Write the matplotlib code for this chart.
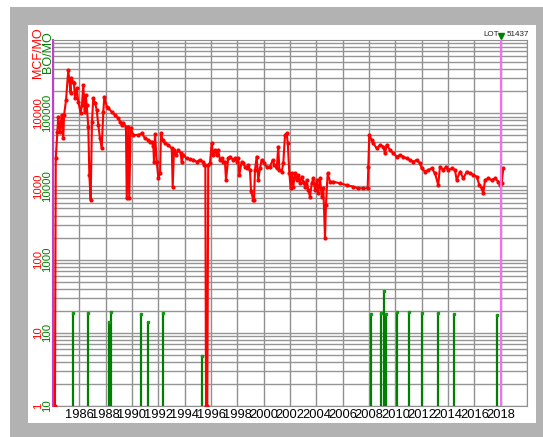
import matplotlib
matplotlib.use("Agg")
import matplotlib.pyplot as plt
from matplotlib.patches import Rectangle
from matplotlib.ticker import NullFormatter, NullLocator

plt.rcParams['font.family'] = ['Liberation Sans', 'DejaVu Sans']

# gas production, MCF per month (red scale)
gas_years = [1984.15, 1984.21, 1984.33, 1984.40, 1984.53, 1984.66, 1984.78, 1984.84, 1984.99,
             1985.16, 1985.24, 1985.34, 1985.37, 1985.50, 1985.59, 1985.67, 1985.80, 1985.92,
             1986.10, 1986.20, 1986.30, 1986.41, 1986.48, 1986.56, 1986.68, 1986.76, 1986.86,
             1986.96, 1987.06, 1987.19, 1987.32, 1987.44, 1987.57, 1987.70, 1987.82, 1987.90,
             1988.08, 1988.20, 1988.46, 1988.71, 1988.96, 1989.09, 1989.22, 1989.34, 1989.54,
             1989.60, 1989.72, 1989.79, 1989.90, 1990.10, 1990.48, 1990.74, 1990.99, 1991.24,
             1991.37, 1991.50, 1991.62, 1991.67, 1991.75, 1991.88, 1992.00, 1992.13, 1992.20,
             1992.33, 1992.51, 1992.76, 1993.02, 1993.09, 1993.19, 1993.34, 1993.52, 1993.70,
             1993.77, 1993.90, 1994.15, 1994.40, 1994.66, 1994.91, 1995.16, 1995.37, 1995.49,
             1995.57, 1995.62, 1995.72, 1995.79, 1995.92, 1996.05, 1996.17, 1996.30, 1996.43,
             1996.55, 1996.68, 1996.81, 1996.93, 1997.06, 1997.14, 1997.31, 1997.44, 1997.69,
             1997.82, 1997.95, 1998.07, 1998.15, 1998.33, 1998.45, 1998.58, 1998.71, 1998.83,
             1998.96, 1999.04, 1999.21, 1999.27, 1999.34, 1999.47, 1999.59, 1999.72, 1999.85,
             2000.03, 2000.23, 2000.48, 2000.69, 2000.81, 2000.99, 2001.11, 2001.19, 2001.37,
             2001.49, 2001.62, 2001.75, 2001.83, 2001.95, 2002.05, 2002.15, 2002.25, 2002.38,
             2002.51, 2002.63, 2002.76, 2002.89, 2003.01, 2003.14, 2003.27, 2003.39, 2003.52,
             2003.65, 2003.77, 2003.90, 2004.03, 2004.15, 2004.28, 2004.41, 2004.53, 2004.66,
             2004.73, 2004.86, 2005.04, 2005.29, 2005.80, 2006.31, 2006.81, 2007.19, 2007.57,
             2007.90, 2007.95, 2008.02, 2008.21, 2008.33, 2008.58, 2008.84, 2009.09, 2009.22,
             2009.34, 2009.60, 2009.85, 2010.10, 2010.35, 2010.61, 2010.86, 2011.11, 2011.36,
             2011.62, 2011.87, 2012.00, 2012.25, 2012.50, 2012.76, 2013.01, 2013.26, 2013.39,
             2013.64, 2013.85, 2014.02, 2014.28, 2014.53, 2014.66, 2014.91, 2015.16, 2015.42,
             2015.67, 2015.92, 2016.18, 2016.38, 2016.56, 2016.68, 2016.81, 2017.06, 2017.32,
             2017.57, 2017.82, 2017.95, 2018.08, 2018.20]
gas_mcf = [1, 2420, 5590, 8960, 5590, 9450, 4540, 9450, 15100,
           38900, 28400, 18900, 30500, 26900, 25600, 16100, 22100, 14400,
           10100, 12900, 24300, 10500, 17700, 12900, 6540, 1430, 652,
           7650, 16000, 13800, 11100, 6900, 4540, 3310, 10500, 16800,
           12300, 11700, 10500, 9450, 8510, 7650, 6900, 7300, 6540,
           687, 6540, 687, 6220, 5040, 5040, 5310, 4540, 4300,
           4080, 4080, 3600, 2175, 5200, 2175, 1290, 1510, 5310,
           4300, 3880, 3680, 3310, 990, 3140, 2680, 3140, 2830,
           2175, 2680, 2420, 2345, 2300, 2175, 2300, 2175, 1960,
           1960, 1, 1, 1960, 2070, 3880, 2680, 3140, 2680,
           3140, 2300, 2420, 2175, 2175, 1220, 2420, 2550, 2300,
           2420, 2175, 2420, 1430, 2175, 2070, 1860, 1770, 1960,
           1675, 870, 652, 652, 1675, 2550, 1220, 1770, 2300,
           2070, 1860, 1860, 2300, 1960, 1770, 3490, 1675, 1590,
           2070, 5040, 5310, 3880, 1510, 942, 1510, 990, 1510,
           1220, 1430, 1100, 1360, 1160, 990, 1220, 893, 723,
           1100, 1290, 893, 1220, 805, 1290, 723, 942, 195,
           557, 1510, 1160, 1160, 1100, 1045, 990, 942, 942,
           942, 1860, 5040, 4300, 3880, 3310, 3680, 3490, 2830,
           3680, 3140, 2830, 2550, 2680, 2550, 2420, 2300, 2175,
           2300, 2070, 1770, 1590, 1675, 1770, 1510, 1045, 1860,
           1675, 1860, 1675, 1770, 1675, 1220, 1590, 1290, 1590,
           1510, 1430, 1360, 1045, 942, 805, 1220, 1290, 1220,
           1290, 1160, 1045, 1100, 1770]

# oil production, BO per month (green scale)
oil_years = [1985.54, 1986.64, 1988.28, 1988.38, 1990.71, 1991.22, 1992.38, 1995.34,
             2008.15, 2008.91, 2009.16, 2009.27, 2010.10, 2011.04, 2012.00, 2013.24,
             2014.43, 2017.74]
oil_bo = [186, 186, 140, 190, 180, 140, 186, 48,
          180, 186, 372, 180, 190, 190, 184, 184,
          182, 175]

red_ticks = [1, 10, 100, 1000, 10000]
green_ticks = [10, 100, 1000, 10000, 100000]
year_ticks = list(range(1986, 2019, 2))
lot_year = 2018

fig = plt.figure(figsize=(5.43, 4.37), dpi=100)
fig.add_artist(Rectangle((10 / 543, 0), 533 / 543, 430 / 437, transform=fig.transFigure,
                         facecolor='#b3b2b2', edgecolor='none', zorder=-10))
fig.add_artist(Rectangle((28 / 543, 14 / 437), 508 / 543, 398 / 437, transform=fig.transFigure,
                         facecolor='white', edgecolor='none', zorder=-9))

ax = fig.add_axes([53 / 543, 31 / 437, 474 / 543, 366 / 437])
ax.set_yscale('log')
ax.set_xlim(1984, 2020)
ax.set_ylim(1, 1e5)
ax.set_xticks(range(1984, 2021, 2))
ax.set_xticklabels(['' if y < 1986 or y > 2018 else str(y) for y in range(1984, 2021, 2)],
                   fontsize=9.3)
ax.set_yticks(red_ticks, [str(t) for t in red_ticks], rotation=90, va='center',
              color='#ff0000', fontsize=8.2)
ax.yaxis.set_minor_formatter(NullFormatter())
ax.tick_params(axis='both', which='both', length=0)
ax.tick_params(axis='x', pad=2.5)
ax.tick_params(axis='y', pad=7)
ax.grid(True, which='both', axis='y', color='#959595', lw=1.0)
ax.grid(True, which='major', axis='x', color='#909090', lw=1.0)
ax.set_axisbelow(True)
for side in ['top', 'right', 'bottom']:
    ax.spines[side].set_color('#909090')
ax.spines['left'].set_color('#c040c8')
ax.spines['left'].set_linewidth(1.5)

ax.plot(gas_years, gas_mcf, color='#ff0000', lw=1.5, marker='o', ms=2.0, zorder=3)
ax.axvline(lot_year, color='#f070f0', lw=1.6, zorder=4)

ax2 = ax.twinx()
ax2.set_yscale('log')
ax2.set_ylim(10, 1e6)
ax2.yaxis.tick_left()
ax2.set_yticks(green_ticks, [str(t) for t in green_ticks], rotation=90, va='center',
               color='#008000', fontsize=8.2)
ax2.yaxis.set_minor_locator(NullLocator())
ax2.tick_params(axis='y', length=0, pad=0.3)
for side in ax2.spines:
    ax2.spines[side].set_visible(False)
ax2.vlines(oil_years, 10, oil_bo, color='#008000', lw=1.6, zorder=2)
ax2.plot(oil_years, oil_bo, 's', color='#119911', ms=2, zorder=2)

# units at the top of the y axis
fig.text(37.5 / 543, 1 - 53 / 437, 'MCF/MO', color='#ff0000', rotation=90,
         ha='center', va='center', fontsize=9)
fig.text(48.5 / 543, 1 - 52 / 437, 'BO/MO', color='#008000', rotation=90,
         ha='center', va='center', fontsize=9)

# lot marker
ax.plot([lot_year], [1.012], marker='v', color='#008000', ms=5,
        transform=ax.get_xaxis_transform(), clip_on=False, zorder=5)
fig.text(499 / 543, 1 - 35 / 437, 'LOT', fontsize=5.8, ha='right', va='center', color='#222222')
fig.text(507 / 543, 1 - 35 / 437, '51437', fontsize=5.8, ha='left', va='center', color='#222222')

fig.savefig('out.png', dpi=100)
